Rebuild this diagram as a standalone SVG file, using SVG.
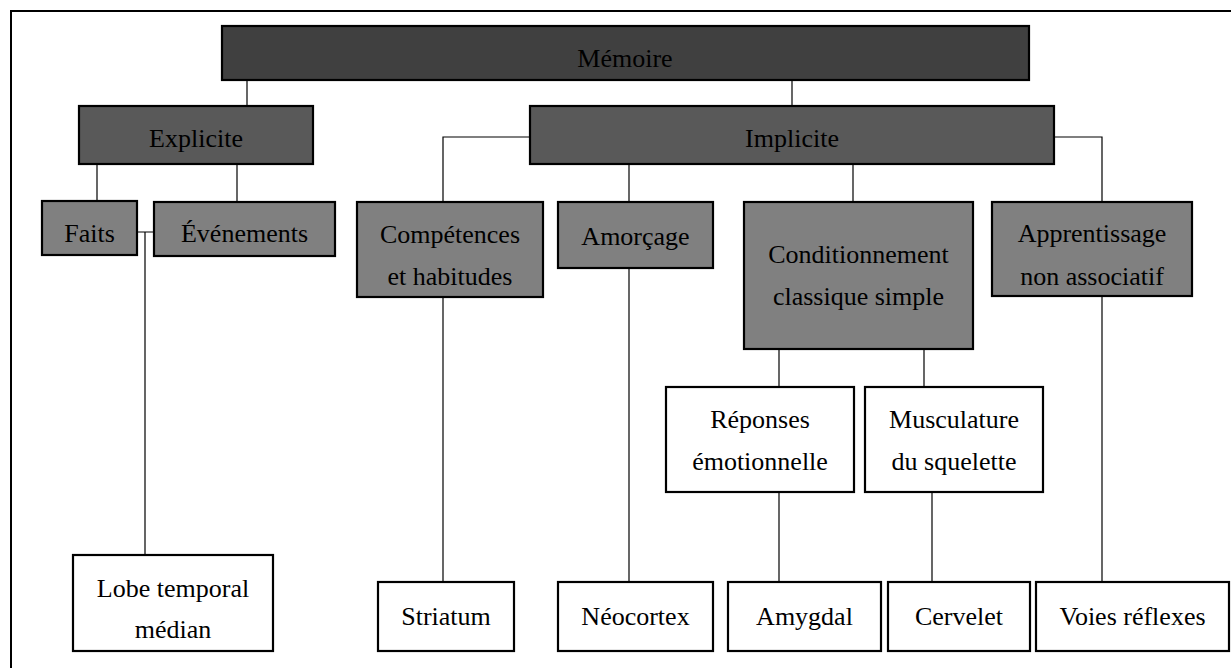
<svg xmlns="http://www.w3.org/2000/svg" width="1231" height="668" viewBox="0 0 1231 668">
<style>
.b{stroke:#000;stroke-width:2.2}
.l1{fill:#404040}
.l2{fill:#595959}
.l3{fill:#808080}
.w{fill:#fff}
text{font-family:'Liberation Serif','DejaVu Serif',serif;font-size:26px;fill:#000;text-anchor:middle}
.c{stroke:#000;stroke-width:1.2;fill:none}
</style>
<rect width="1231" height="668" fill="#fff"/>
<path d="M11 668V11H1231" fill="none" stroke="#000" stroke-width="2"/>
<g id="connectors">
<path class="c" d="M247 80V106"/>
<path class="c" d="M792 80V106"/>
<path class="c" d="M97 164V201"/>
<path class="c" d="M237 164V202"/>
<path class="c" d="M137 232H154M145 232V555"/>
<path class="c" d="M530 137H443V202"/>
<path class="c" d="M443 297V582"/>
<path class="c" d="M629 164V202"/>
<path class="c" d="M629 268V582"/>
<path class="c" d="M853 164V202"/>
<path class="c" d="M1054 137H1102V202"/>
<path class="c" d="M1102 296V582"/>
<path class="c" d="M779 349V387"/>
<path class="c" d="M779 492V582"/>
<path class="c" d="M924 349V387"/>
<path class="c" d="M932 492V582"/>
</g>
<g id="memoire"><rect class="b l1" x="222" y="26" width="807" height="54"/><text x="625" y="67" font-family="Liberation Serif">Mémoire</text></g>
<g id="explicite"><rect class="b l2" x="79" y="106" width="234" height="58"/><text x="196" y="147" font-family="Liberation Serif">Explicite</text></g>
<g id="implicite"><rect class="b l2" x="530" y="106" width="524" height="58"/><text x="792" y="147" font-family="Liberation Serif">Implicite</text></g>
<g id="faits"><rect class="b l3" x="42" y="201" width="95" height="54"/><text x="89.5" y="242" font-family="Liberation Serif">Faits</text></g>
<g id="evenements"><rect class="b l3" x="154" y="202" width="181" height="54"/><text x="244.5" y="242" font-family="Liberation Serif">Événements</text></g>
<g id="competences"><rect class="b l3" x="357" y="202" width="186" height="95"/><text x="450" y="243" font-family="Liberation Serif">Compétences</text><text x="450" y="285" font-family="Liberation Serif">et habitudes</text></g>
<g id="amorcage"><rect class="b l3" x="558" y="202" width="155" height="66"/><text x="635.5" y="245" font-family="Liberation Serif">Amorçage</text></g>
<g id="conditionnement"><rect class="b l3" x="744" y="202" width="229" height="147"/><text x="858.5" y="263" font-family="Liberation Serif">Conditionnement</text><text x="858.5" y="305" font-family="Liberation Serif">classique simple</text></g>
<g id="apprentissage"><rect class="b l3" x="992" y="202" width="200" height="94"/><text x="1092" y="242" font-family="Liberation Serif">Apprentissage</text><text x="1092" y="285" font-family="Liberation Serif">non associatif</text></g>
<g id="reponses"><rect class="b w" x="666" y="387" width="188" height="105"/><text x="760" y="428" font-family="Liberation Serif">Réponses</text><text x="760" y="470" font-family="Liberation Serif">émotionnelle</text></g>
<g id="musculature"><rect class="b w" x="865" y="387" width="178" height="105"/><text x="954" y="428" font-family="Liberation Serif">Musculature</text><text x="954" y="470" font-family="Liberation Serif">du squelette</text></g>
<g id="lobe"><rect class="b w" x="73" y="555" width="200" height="96"/><text x="173" y="597" font-family="Liberation Serif">Lobe temporal</text><text x="173" y="638" font-family="Liberation Serif">médian</text></g>
<g id="striatum"><rect class="b w" x="378" y="582" width="136" height="69"/><text x="446" y="625" font-family="Liberation Serif">Striatum</text></g>
<g id="neocortex"><rect class="b w" x="558" y="582" width="155" height="69"/><text x="635.5" y="625" font-family="Liberation Serif">Néocortex</text></g>
<g id="amygdal"><rect class="b w" x="728" y="582" width="153" height="69"/><text x="804.5" y="625" font-family="Liberation Serif">Amygdal</text></g>
<g id="cervelet"><rect class="b w" x="888" y="582" width="142" height="69"/><text x="959" y="625" font-family="Liberation Serif">Cervelet</text></g>
<g id="voies"><rect class="b w" x="1036" y="582" width="193" height="69"/><text x="1132.5" y="625" font-family="Liberation Serif">Voies réflexes</text></g>
</svg>
